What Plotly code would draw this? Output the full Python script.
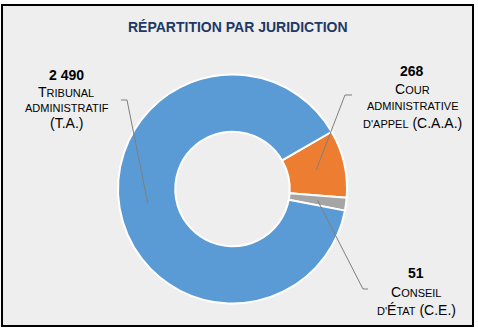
import math
import plotly.graph_objects as go

# ---- data ----
labels = ["Cour administrative d'appel (C.A.A.)", "Conseil d'État (C.E.)", "Tribunal administratif (T.A.)"]
values = [268, 51, 2490]
value_text = ["268", "51", "2 490"]
colors = ["#ED7D31", "#A5A5A5", "#5B9BD5"]
title_text = "RÉPARTITION PAR JURIDICTION"

W, H = 478, 329
FONT = "Liberation Sans, Arial, sans-serif"
BIG, SMALL = 14, 11

# pie geometry (pixels)
cx, cy, R = 232.5, 189.0, 114.5
hole = 0.5
rotation = 60


def px(x):
    return x / W


def py(y):
    return 1 - y / H


def sc(s):
    return "<span style='font-size:%dpx'>%s</span>" % (SMALL, s)


fig = go.Figure(go.Pie(
    labels=labels, values=values, sort=False, direction="clockwise",
    rotation=rotation, hole=hole, textinfo="none", hoverinfo="label+value",
    marker=dict(colors=colors, line=dict(color="white", width=2)),
    domain=dict(x=[px(cx - R), px(cx + R)], y=[py(cy + R), py(cy - R)]),
    showlegend=False,
))

shapes = [dict(type="rect", xref="paper", yref="paper", x0=px(2), x1=px(473),
               y0=py(326), y1=py(5), fillcolor="#EEEEEE",
               line=dict(color="black", width=2), layer="below")]

# label blocks: lines (text, x, y)
label_lines = [
    [("<b>%s</b>" % value_text[0], 412, 71), ("C" + sc("OUR"), 412, 89),
     (sc("ADMINISTRATIVE"), 412, 106), (sc("D'APPEL") + " (C.A.A.)", 412, 123)],
    [("<b>%s</b>" % value_text[1], 416, 273), ("C" + sc("ONSEIL"), 416, 292),
     (sc("D'") + "É" + sc("TAT") + " (C.E.)", 416, 310)],
    [("<b>%s</b>" % value_text[2], 66, 75), ("T" + sc("RIBUNAL"), 66, 92),
     (sc("ADMINISTRATIF"), 67, 108), ("(T.A.)", 66, 123)],
]
# leader line elbows and ends (pixels)
elbows = [((345, 95), (352, 95)), ((363, 289), (368, 289)), ((127, 100), (121, 100))]

annotations = [dict(text="<b>%s</b>" % title_text, x=px(238), y=py(27), xref="paper",
                    yref="paper", showarrow=False, xanchor="center", yanchor="middle",
                    font=dict(family=FONT, size=14, color="#1F3864"))]
for block in label_lines:
    for t, x, y in block:
        annotations.append(dict(text=t, x=px(x), y=py(y), xref="paper", yref="paper",
                                showarrow=False, xanchor="center", yanchor="middle",
                                font=dict(family=FONT, size=BIG, color="black")))

total = sum(values)
start = rotation
rmid = R * (1 + hole) / 2
for v, (e1, e2) in zip(values, elbows):
    span = v / total * 360
    mid = math.radians(start + span / 2)
    start += span
    x0 = cx + rmid * math.sin(mid)
    y0 = cy - rmid * math.cos(mid)
    path = "M %f %f L %f %f L %f %f" % (px(x0), py(y0), px(e1[0]), py(e1[1]), px(e2[0]), py(e2[1]))
    shapes.append(dict(type="path", xref="paper", yref="paper", path=path,
                       line=dict(color="#7F7F7F", width=1), layer="above"))

fig.update_layout(
    width=W, height=H, margin=dict(l=0, r=0, t=0, b=0),
    paper_bgcolor="white", plot_bgcolor="white",
    shapes=shapes, annotations=annotations,
    font=dict(family=FONT),
)
fig.write_html("out.html", config={"displayModeBar": False})
